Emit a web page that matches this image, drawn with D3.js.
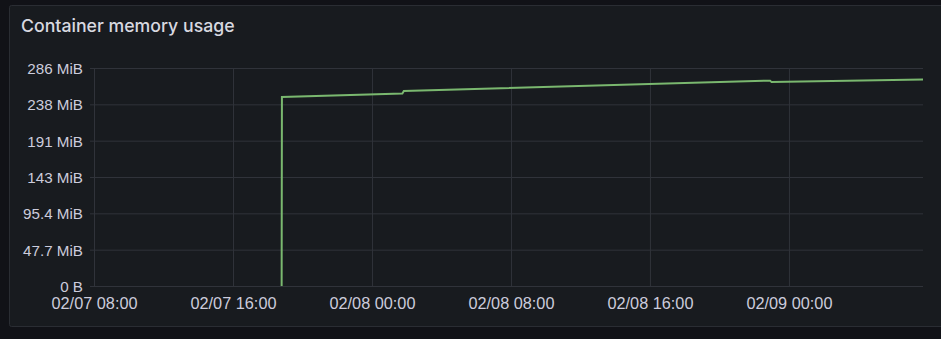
<!DOCTYPE html>
<html>
<head>
<meta charset="utf-8">
<script src="https://cdn.jsdelivr.net/npm/d3@7"></script>
<style>
  html, body { margin: 0; padding: 0; background: #111217; }
  svg { display: block; font-family: Inter, "Noto Sans", sans-serif; }
</style>
</head>
<body>
<div id="chart"></div>
<script>
// memory usage samples (bytes)
var times = [
  "2024-02-07T18:48", "2024-02-07T18:49",
  "2024-02-08T01:45", "2024-02-08T01:50",
  "2024-02-08T22:55", "2024-02-08T23:00",
  "2024-02-09T07:43"
];
var values = [0, 260.0e6, 265.0e6, 268.3e6, 282.6e6, 280.6e6, 284.3e6];

var yTicks = [0, 50e6, 100e6, 150e6, 200e6, 250e6, 300e6];
var xTicks = [
  "2024-02-07T08:00", "2024-02-07T16:00", "2024-02-08T00:00",
  "2024-02-08T08:00", "2024-02-08T16:00", "2024-02-09T00:00"
];
var xStart = "2024-02-07T08:00", xEnd = "2024-02-09T07:43";

var W = 941, H = 339;
var margin = {top: 68, right: 18, bottom: 53, left: 94};
var width = W - margin.left - margin.right;
var height = H - margin.top - margin.bottom;

var parse = d3.timeParse("%Y-%m-%dT%H:%M");
var data = times.map(function(t, i) { return {t: parse(t), v: values[i]}; });

var svg = d3.select("#chart").append("svg")
  .attr("width", W).attr("height", H);

// panel
svg.append("rect")
  .attr("x", 9.5).attr("y", 5.5)
  .attr("width", 940).attr("height", 321)
  .attr("rx", 2)
  .attr("fill", "#181b1f")
  .attr("stroke", "#2a2d33");

svg.append("text")
  .attr("x", 21).attr("y", 32)
  .attr("fill", "#d8d9e0")
  .attr("font-size", 17.7)
  .attr("font-weight", 500)
  .text("Container memory usage");

var g = svg.append("g")
  .attr("transform", "translate(" + margin.left + "," + margin.top + ")");

var x = d3.scaleTime()
  .domain([parse(xStart), parse(xEnd)])
  .range([0, width]);

var y = d3.scaleLinear()
  .domain([0, 300e6])
  .range([height, 0]);

var fmtMiB = function(v) {
  if (v === 0) return "0 B";
  return d3.format(".3~r")(v / 1048576) + " MiB";
};

// y grid + labels
var yAxis = g.append("g")
  .call(d3.axisLeft(y)
    .tickValues(yTicks)
    .tickSize(-width - 4)
    .tickPadding(7)
    .tickFormat(fmtMiB))
  .attr("transform", "translate(-4,0)");
yAxis.select(".domain").remove();
yAxis.selectAll("line").attr("stroke", "#30333a");
yAxis.selectAll("text")
  .attr("fill", "#ccccdc")
  .attr("font-size", 15.2)
  .attr("dy", "0.36em");

// x grid + labels
var xAxis = g.append("g")
  .attr("transform", "translate(0," + height + ")")
  .call(d3.axisBottom(x)
    .tickValues(xTicks.map(parse))
    .tickSize(-height)
    .tickPadding(11)
    .tickFormat(d3.timeFormat("%m/%d %H:%M")));
xAxis.select(".domain").remove();
xAxis.selectAll("line").attr("stroke", "#30333a");
xAxis.selectAll("text")
  .attr("fill", "#ccccdc")
  .attr("font-size", 16.3);

// series
g.append("path")
  .datum(data)
  .attr("fill", "none")
  .attr("stroke", "#7ab86f")
  .attr("stroke-width", 2)
  .attr("d", d3.line()
    .x(function(d) { return x(d.t); })
    .y(function(d) { return y(d.v); }));
</script>
</body>
</html>
